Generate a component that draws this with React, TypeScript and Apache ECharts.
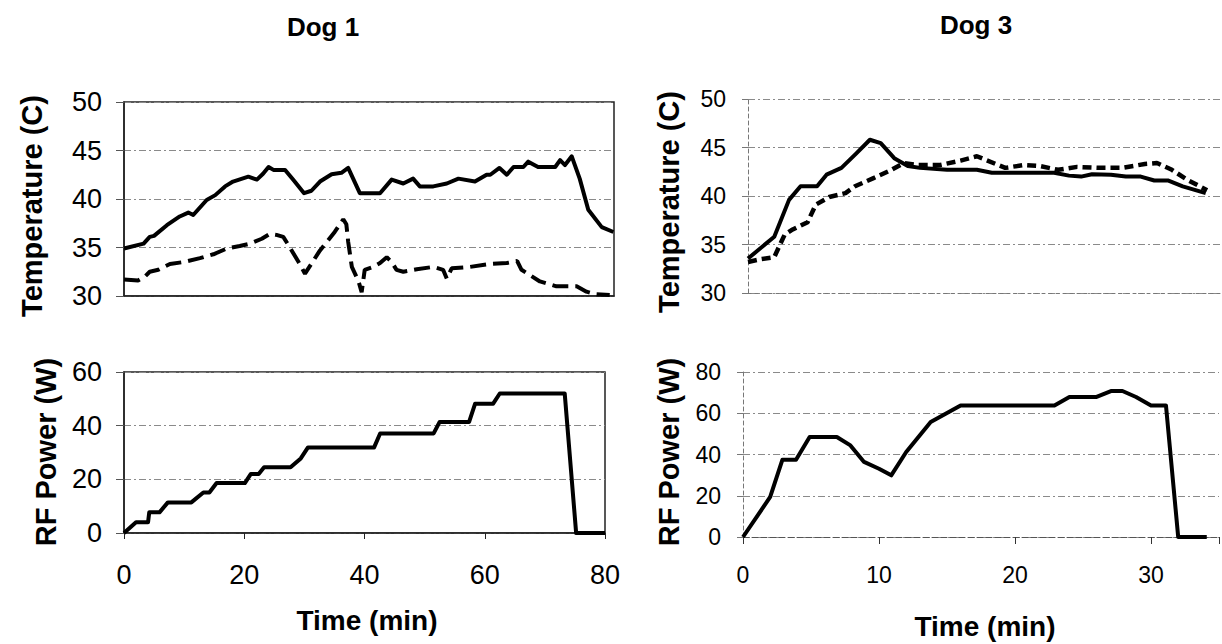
import React, { useEffect, useRef } from "react";
import * as echarts from "echarts";

const FONT = "'Liberation Sans', Arial, sans-serif";

// ---- Dog 1 temperature (solid) ----
const dog1SolidT = [0, 3.2, 4.2, 4.9, 7.0, 9.1, 10.5, 11.3, 13.5, 14.9, 16.5, 17.8, 20.3, 21.7, 22.7, 23.6, 24.4, 26.3, 27.6, 29.4, 30.6, 32.0, 33.9, 35.5, 36.6, 38.5, 41.8, 43.7, 45.6, 47.2, 48.3, 50.5, 52.7, 54.6, 57.3, 59.2, 59.8, 61.3, 62.5, 63.6, 65.2, 66.0, 67.6, 70.4, 71.2, 72.0, 73.1, 74.4, 75.8, 78.0, 79.9];
const dog1SolidV = [34.9, 35.4, 36.1, 36.2, 37.3, 38.2, 38.6, 38.35, 39.9, 40.4, 41.3, 41.8, 42.3, 42.0, 42.6, 43.3, 43.0, 43.0, 42.0, 40.6, 40.85, 41.8, 42.55, 42.7, 43.2, 40.6, 40.6, 42.0, 41.6, 42.1, 41.3, 41.3, 41.6, 42.1, 41.8, 42.5, 42.5, 43.2, 42.5, 43.3, 43.3, 43.85, 43.3, 43.3, 44.0, 43.5, 44.4, 42.1, 38.9, 37.1, 36.6];

// ---- Dog 1 temperature (dashed) ----
const dog1DashT = [0, 2.3, 3.4, 4.2, 5.6, 7.5, 9.7, 12.4, 14.6, 16.8, 18.9, 20.6, 22.5, 23.8, 24.9, 26.0, 26.8, 28.5, 29.55, 32.0, 34.4, 35.8, 36.3, 36.6, 37.2, 38.3, 38.8, 39.3, 40.7, 41.8, 42.9, 43.7, 44.5, 45.6, 47.8, 50.5, 52.1, 52.7, 53.5, 56.5, 59.8, 62.5, 64.2, 64.9, 67.9, 70.6, 73.9, 75.5, 76.9, 79.3];
const dog1DashV = [31.7, 31.6, 32.0, 32.5, 32.7, 33.3, 33.5, 33.9, 34.3, 34.9, 35.15, 35.4, 35.9, 36.4, 36.3, 36.1, 35.3, 33.5, 32.3, 34.7, 36.6, 37.9, 37.4, 35.6, 33.0, 31.5, 30.4, 32.7, 33.0, 33.4, 34.0, 33.5, 32.7, 32.5, 32.75, 33.0, 32.7, 31.8, 32.85, 33.0, 33.3, 33.4, 33.6, 32.7, 31.5, 31.0, 31.0, 30.45, 30.2, 30.1];

// ---- Dog 1 RF power ----
const dog1PowerT = [0, 2.0, 4.0, 4.2, 5.9, 7.3, 11.2, 13.2, 14.2, 15.4, 20.1, 21.1, 22.4, 23.3, 27.7, 29.4, 30.6, 41.6, 42.6, 51.5, 52.5, 57.4, 58.4, 61.4, 62.5, 73.3, 75.2, 80];
const dog1PowerV = [0, 4, 4, 7.7, 7.7, 11.4, 11.4, 15.1, 15.1, 18.6, 18.6, 22, 22, 24.5, 24.5, 27.8, 31.9, 31.9, 37.1, 37.1, 41.4, 41.4, 48.2, 48.2, 52, 52, 0, 0];

// ---- Dog 3 temperature (solid) ----
const dog3SolidT = [0, 1.94, 3.03, 3.88, 5.1, 5.8, 6.9, 8.0, 9.0, 9.8, 10.8, 11.8, 12.7, 14.7, 16.9, 18.0, 22.6, 23.7, 24.6, 25.4, 26.8, 27.9, 29.0, 30.0, 31.0, 32.1, 33.8];
const dog3SolidV = [33.55, 35.8, 39.6, 41.0, 41.0, 42.2, 42.9, 44.4, 45.8, 45.45, 43.9, 43.1, 42.9, 42.7, 42.7, 42.4, 42.4, 42.1, 42.0, 42.25, 42.2, 42.0, 42.0, 41.6, 41.6, 41.0, 40.3];

// ---- Dog 3 temperature (dashed) ----
const dog3DashT = [0, 1.0, 1.94, 2.7, 3.3, 4.4, 5.0, 6.0, 7.2, 7.9, 9.35, 10.6, 11.5, 12.5, 14.2, 15.7, 16.9, 19.0, 20.4, 21.5, 22.9, 24.3, 26.0, 27.6, 29.3, 30.2, 31.3, 32.4, 33.9];
const dog3DashV = [33.2, 33.5, 33.7, 36.0, 36.55, 37.3, 39.1, 39.9, 40.3, 41.0, 41.9, 42.7, 43.4, 43.2, 43.2, 43.65, 44.1, 42.9, 43.2, 43.1, 42.7, 43.0, 42.9, 42.9, 43.3, 43.4, 42.7, 41.7, 40.6];

// ---- Dog 3 RF power ----
const dog3PowerT = [0, 2.0, 2.9, 3.9, 4.9, 6.9, 7.9, 8.9, 10.0, 10.9, 12.0, 13.8, 14.9, 16.0, 22.9, 24.0, 26.0, 27.1, 27.9, 28.9, 30.0, 31.1, 32.0, 34.1];
const dog3PowerV = [0, 19.4, 37.5, 37.5, 48.5, 48.5, 44.4, 36.4, 33.1, 29.9, 41.2, 55.8, 59.8, 63.8, 63.8, 67.9, 67.9, 70.8, 70.8, 67.9, 63.8, 63.8, 0, 0];

const pairs = (t: number[], v: number[]) => t.map((x, i) => [x, v[i]]);

const gridLine = { show: true, lineStyle: { color: "#8a8a8a", width: 1, type: [7, 3, 2, 3] as any } };

function buildOption(): any {
  const d1Label = { color: "#000", fontFamily: FONT, fontSize: 27 };
  const d3Label = { color: "#000", fontFamily: FONT, fontSize: 23 };
  const lineBase = { type: "line", showSymbol: false, symbol: "none", smooth: false, z: 5 };
  const blackSolid = { color: "#000", width: 4, type: "solid", cap: "butt", join: "round" };

  return {
    animation: false,
    backgroundColor: "#fff",
    grid: [
      { left: 124, top: 102, width: 490, height: 194, show: true, borderColor: "#222", borderWidth: 1.5, backgroundColor: "transparent" },
      { left: 124, top: 372, width: 481, height: 161, show: true, borderColor: "#222", borderWidth: 1.5, backgroundColor: "transparent" },
      { left: 748, top: 99, width: 481, height: 194 },
      { left: 743, top: 372, width: 481, height: 165 },
    ],
    xAxis: [
      { gridIndex: 0, type: "value", min: 0, max: 80, interval: 20, axisLabel: { show: false }, axisTick: { show: false }, splitLine: { show: false }, axisLine: { show: true, lineStyle: { color: "#222", width: 1.5 } } },
      { gridIndex: 1, type: "value", min: 0, max: 80, interval: 20, axisLabel: { ...d1Label, margin: 28 }, axisTick: { show: true, length: 6, lineStyle: { color: "#222" } }, splitLine: { show: false }, axisLine: { show: true, onZero: false, lineStyle: { color: "#222", width: 1.5 } } },
      { gridIndex: 2, type: "value", min: 0, max: 35, interval: 10, axisLabel: { show: false }, axisTick: { show: false }, splitLine: { show: false }, axisLine: { show: true, lineStyle: { color: "#777", width: 1, type: [3, 4] } } },
      { gridIndex: 3, type: "value", min: 0, max: 35, interval: 10, axisLabel: { ...d3Label, margin: 26, formatter: (v: number) => (v % 10 === 0 ? String(v) : "") }, axisTick: { show: true, length: 7, lineStyle: { color: "#333" } }, splitLine: { show: false }, axisLine: { show: true, onZero: false, lineStyle: { color: "#555", width: 1, type: [6, 3] } } },
    ],
    yAxis: [
      { gridIndex: 0, type: "value", min: 30, max: 50, interval: 5, axisLabel: { ...d1Label, margin: 22 }, axisTick: { show: true, length: 8, lineStyle: { color: "#555" } }, axisLine: { show: true, lineStyle: { color: "#222", width: 1.5 } }, splitLine: gridLine },
      { gridIndex: 1, type: "value", min: 0, max: 60, interval: 20, axisLabel: { ...d1Label, margin: 22 }, axisTick: { show: true, length: 8, lineStyle: { color: "#555" } }, axisLine: { show: true, lineStyle: { color: "#222", width: 1.5 } }, splitLine: gridLine },
      { gridIndex: 2, type: "value", min: 30, max: 50, interval: 5, axisLabel: { ...d3Label, margin: 22 }, axisTick: { show: true, length: 6, lineStyle: { color: "#777" } }, axisLine: { show: true, lineStyle: { color: "#777", width: 1, type: [4, 3] } }, splitLine: gridLine },
      { gridIndex: 3, type: "value", min: 0, max: 80, interval: 20, axisLabel: { ...d3Label, margin: 22 }, axisTick: { show: true, length: 6, lineStyle: { color: "#777" } }, axisLine: { show: true, lineStyle: { color: "#777", width: 1, type: [4, 3] } }, splitLine: gridLine },
    ],
    series: [
      { ...lineBase, name: "Dog 1 solid", xAxisIndex: 0, yAxisIndex: 0, data: pairs(dog1SolidT, dog1SolidV), lineStyle: blackSolid },
      { ...lineBase, name: "Dog 1 dashed", xAxisIndex: 0, yAxisIndex: 0, data: pairs(dog1DashT, dog1DashV), lineStyle: { color: "#000", width: 4, type: [16, 7], cap: "butt" } },
      { ...lineBase, name: "Dog 1 power", xAxisIndex: 1, yAxisIndex: 1, data: pairs(dog1PowerT, dog1PowerV), lineStyle: blackSolid },
      { ...lineBase, name: "Dog 3 solid", xAxisIndex: 2, yAxisIndex: 2, data: pairs(dog3SolidT, dog3SolidV), lineStyle: blackSolid },
      { ...lineBase, name: "Dog 3 dashed", xAxisIndex: 2, yAxisIndex: 2, data: pairs(dog3DashT, dog3DashV), lineStyle: { color: "#000", width: 4.5, type: [9, 5], cap: "butt" } },
      { ...lineBase, name: "Dog 3 power", xAxisIndex: 3, yAxisIndex: 3, data: pairs(dog3PowerT, dog3PowerV), lineStyle: blackSolid },
    ],
    graphic: [
      { type: "text", x: 323, y: 27, style: { text: "Dog 1", font: `bold 26px ${FONT}`, fill: "#000", align: "center", verticalAlign: "middle" } },
      { type: "text", x: 976, y: 25, style: { text: "Dog 3", font: `bold 26px ${FONT}`, fill: "#000", align: "center", verticalAlign: "middle" } },
      { type: "text", x: 32, y: 206, rotation: Math.PI / 2, style: { text: "Temperature (C)", font: `bold 29px ${FONT}`, fill: "#000", align: "center", verticalAlign: "middle" } },
      { type: "text", x: 46, y: 452, rotation: Math.PI / 2, style: { text: "RF Power (W)", font: `bold 29px ${FONT}`, fill: "#000", align: "center", verticalAlign: "middle" } },
      { type: "text", x: 669, y: 202, rotation: Math.PI / 2, style: { text: "Temperature (C)", font: `bold 29px ${FONT}`, fill: "#000", align: "center", verticalAlign: "middle" } },
      { type: "text", x: 669, y: 452, rotation: Math.PI / 2, style: { text: "RF Power (W)", font: `bold 29px ${FONT}`, fill: "#000", align: "center", verticalAlign: "middle" } },
      { type: "text", x: 367, y: 620, style: { text: "Time (min)", font: `bold 28px ${FONT}`, fill: "#000", align: "center", verticalAlign: "middle" } },
      { type: "text", x: 985, y: 626, style: { text: "Time (min)", font: `bold 28px ${FONT}`, fill: "#000", align: "center", verticalAlign: "middle" } },
    ],
  };
}

export default function App() {
  const ref = useRef<HTMLDivElement>(null);
  useEffect(() => {
    document.body.style.margin = "0";
    const chart = echarts.init(ref.current as HTMLDivElement, null, { renderer: "svg" });
    chart.setOption(buildOption());
    return () => chart.dispose();
  }, []);
  return <div ref={ref} style={{ width: 1222, height: 644, background: "#fff", overflow: "hidden" }} />;
}
